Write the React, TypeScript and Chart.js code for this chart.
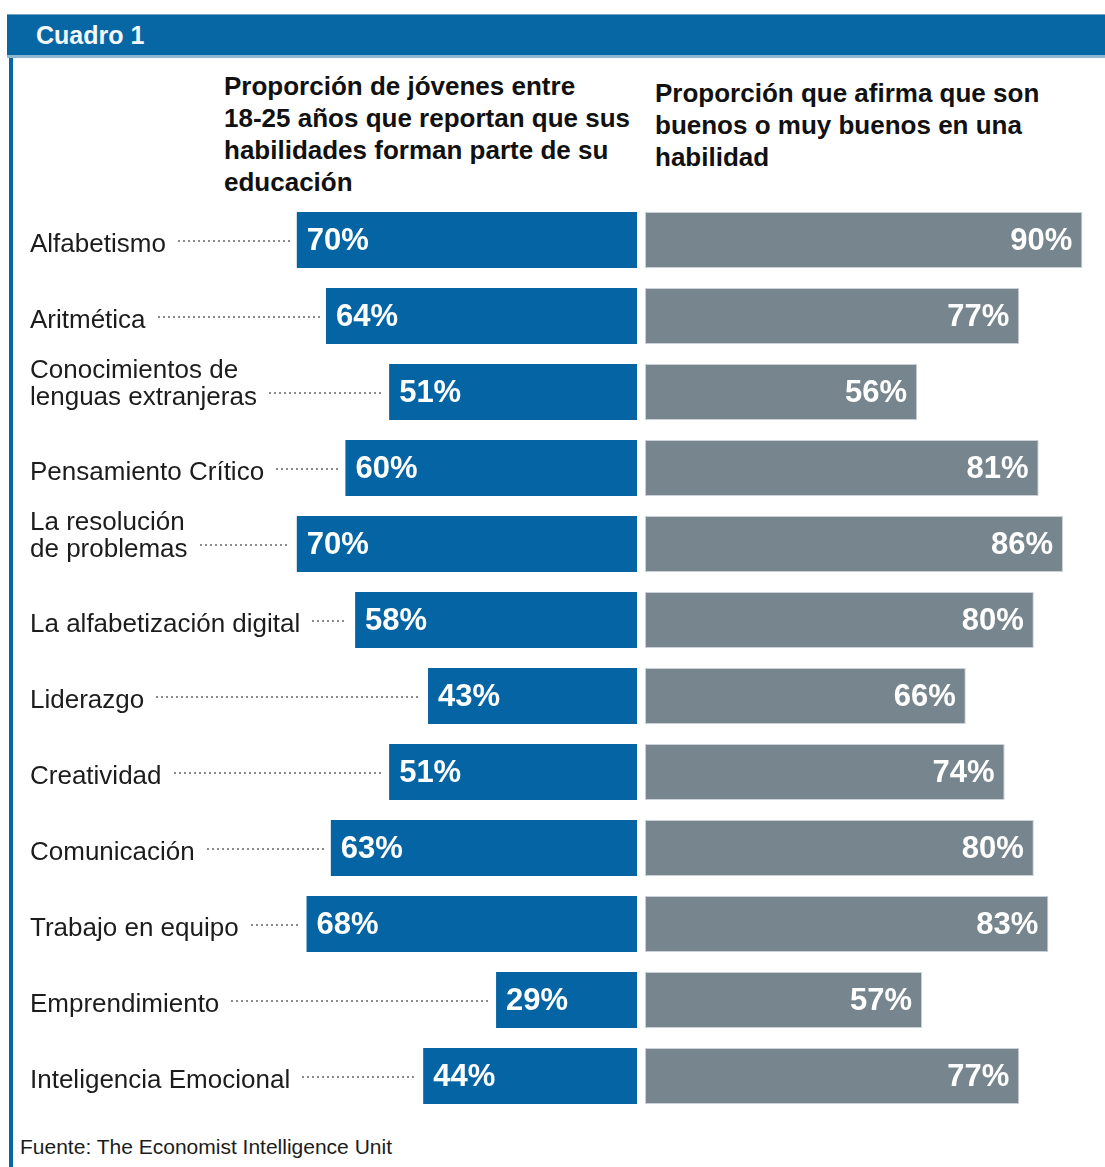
import React, { useEffect, useRef } from "react";
import { Chart, registerables } from "chart.js";

Chart.register(...registerables);

// ---------- data ----------
const CATEGORIES: (string | string[])[] = [
  "Alfabetismo",
  "Aritmética",
  ["Conocimientos de", "lenguas extranjeras"],
  "Pensamiento Crítico",
  ["La resolución", "de problemas"],
  "La alfabetización digital",
  "Liderazgo",
  "Creatividad",
  "Comunicación",
  "Trabajo en equipo",
  "Emprendimiento",
  "Inteligencia Emocional",
];
const EDUCATION_SHARE = [70, 64, 51, 60, 70, 58, 43, 51, 63, 68, 29, 44];
const SELF_RATED_SHARE = [90, 77, 56, 81, 86, 80, 66, 74, 80, 83, 57, 77];

const HEADER_TITLE = "Cuadro 1";
const LEFT_TITLE = [
  "Proporción de jóvenes entre",
  "18-25 años que reportan que sus",
  "habilidades forman parte de su",
  "educación",
];
const RIGHT_TITLE = [
  "Proporción que afirma que son",
  "buenos o muy buenos en una",
  "habilidad",
];
const SOURCE = "Fuente: The Economist Intelligence Unit";

// ---------- layout / style ----------
const PAGE_W = 1105;
const PAGE_H = 1167;
const CHART_TOP = 202;
const ROW_H = 76;
const BAR_H = 56;
const ZERO_X = 637; // pixel where the two panels meet
const PX_PER_PCT = 4.86;
const GAP_PX = 8;
const BLUE = "#0565a4";
const GREY = "#77868e";
const FONT = '"Liberation Sans", Arial, Helvetica, sans-serif';

const labelsPlugin = {
  id: "customLabels",
  afterDatasetsDraw(chart: any) {
    const ctx = chart.ctx as CanvasRenderingContext2D;
    const m0 = chart.getDatasetMeta(0);
    const m1 = chart.getDatasetMeta(1);
    ctx.save();
    for (let i = 0; i < CATEGORIES.length; i++) {
      const b = m0.data[i].getProps(["x", "y", "base"], true);
      const g = m1.data[i].getProps(["x", "y", "base"], true);
      const bLeft = Math.min(b.x, b.base);
      const gRight = Math.max(g.x, g.base);
      const cy = b.y;

      // value labels
      ctx.fillStyle = "#ffffff";
      ctx.font = `bold 31px ${FONT}`;
      ctx.textBaseline = "alphabetic";
      ctx.textAlign = "left";
      ctx.fillText(`${EDUCATION_SHARE[i]}%`, bLeft + 10, cy + 10);
      ctx.textAlign = "right";
      ctx.fillText(`${SELF_RATED_SHARE[i]}%`, gRight - 10, cy + 10);

      // category labels
      ctx.fillStyle = "#1c1c1c";
      ctx.font = `26px ${FONT}`;
      ctx.textAlign = "left";
      const lab = CATEGORIES[i];
      const lines = Array.isArray(lab) ? lab : [lab];
      const lx = 30;
      let textEnd = lx;
      if (lines.length === 1) {
        ctx.fillText(lines[0], lx, cy + 12);
        textEnd = lx + ctx.measureText(lines[0]).width;
      } else {
        ctx.fillText(lines[0], lx, cy - 14);
        ctx.fillText(lines[1], lx, cy + 13);
        textEnd = lx + Math.max(ctx.measureText(lines[0]).width, ctx.measureText(lines[1]).width);
      }
      // dotted leader
      ctx.fillStyle = "#8a8a8a";
      const startX = textEnd + 12;
      const endX = bLeft - 6;
      for (let x = startX; x <= endX - 2; x += 5) {
        ctx.fillRect(Math.round(x), Math.round(cy), 2, 2);
      }
    }
    ctx.restore();
  },
};

function BarsChart() {
  const ref = useRef<HTMLCanvasElement | null>(null);
  useEffect(() => {
    if (!ref.current) return;
    const gap = GAP_PX / PX_PER_PCT;
    const chart = new Chart(ref.current, {
      type: "bar",
      data: {
        labels: CATEGORIES as any,
        datasets: [
          {
            label: "Educación",
            data: EDUCATION_SHARE.map((v) => [-v, 0]) as any,
            backgroundColor: BLUE,
            barPercentage: BAR_H / ROW_H,
            categoryPercentage: 1,
            grouped: false,
          } as any,
          {
            label: "Autoevaluación",
            data: SELF_RATED_SHARE.map((v) => [gap, gap + v]) as any,
            backgroundColor: GREY,
            borderColor: "#c9d1d6",
            borderWidth: 1,
            borderSkipped: false,
            barPercentage: BAR_H / ROW_H,
            categoryPercentage: 1,
            grouped: false,
          } as any,
        ],
      },
      options: {
        indexAxis: "y",
        animation: false,
        responsive: false,
        maintainAspectRatio: false,
        layout: { padding: 0 },
        plugins: {
          legend: { display: false },
          tooltip: { enabled: false },
          title: { display: false },
        },
        scales: {
          x: {
            type: "linear",
            display: false,
            min: -ZERO_X / PX_PER_PCT,
            max: (PAGE_W - ZERO_X) / PX_PER_PCT,
          },
          y: { display: false, offset: true },
        },
      },
      plugins: [labelsPlugin],
    });
    return () => chart.destroy();
  }, []);
  return (
    <canvas
      ref={ref}
      width={PAGE_W}
      height={ROW_H * CATEGORIES.length}
      style={{
        position: "absolute",
        left: 0,
        top: CHART_TOP,
        width: PAGE_W,
        height: ROW_H * CATEGORIES.length,
      }}
    />
  );
}

export default function App() {
  const titleStyle: React.CSSProperties = {
    position: "absolute",
    fontFamily: FONT,
    fontWeight: "bold",
    fontSize: 26,
    lineHeight: "32px",
    color: "#111",
    whiteSpace: "nowrap",
  };
  return (
    <div
      style={{
        position: "absolute",
        left: 0,
        top: 0,
        width: PAGE_W,
        height: PAGE_H,
        overflow: "hidden",
        background: "#ffffff",
      }}
    >
      {/* header bar */}
      <div
        style={{
          position: "absolute",
          left: 7,
          top: 14,
          width: PAGE_W - 7,
          height: 40,
          background: "#0767a5",
          borderTop: "1px solid #6fa3c8",
        }}
      />
      <div
        style={{
          position: "absolute",
          left: 7,
          top: 55,
          width: PAGE_W - 7,
          height: 3,
          background: "#8fb6d3",
        }}
      />
      <div
        style={{
          position: "absolute",
          left: 36,
          top: 19,
          fontFamily: FONT,
          fontWeight: "bold",
          fontSize: 25,
          lineHeight: "32px",
          color: "#f4f8fb",
        }}
      >
        {HEADER_TITLE}
      </div>
      {/* left border */}
      <div
        style={{
          position: "absolute",
          left: 9,
          top: 58,
          width: 4,
          height: PAGE_H - 58,
          background: "#0767a5",
        }}
      />
      {/* panel titles */}
      <div style={{ ...titleStyle, left: 224, top: 70 }}>
        {LEFT_TITLE.map((t, i) => (
          <div key={i}>{t}</div>
        ))}
      </div>
      <div style={{ ...titleStyle, left: 655, top: 77 }}>
        {RIGHT_TITLE.map((t, i) => (
          <div key={i}>{t}</div>
        ))}
      </div>
      <BarsChart />
      {/* source */}
      <div
        style={{
          position: "absolute",
          left: 20,
          top: 1134,
          fontFamily: FONT,
          fontSize: 21,
          lineHeight: "26px",
          color: "#1c1c1c",
          whiteSpace: "nowrap",
        }}
      >
        {SOURCE}
      </div>
    </div>
  );
}
